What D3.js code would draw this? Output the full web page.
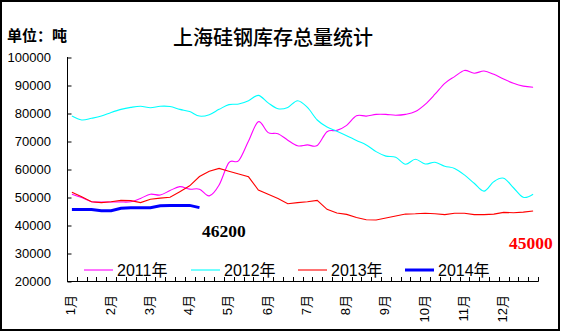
<!DOCTYPE html>
<html><head><meta charset="utf-8">
<script src="https://cdn.jsdelivr.net/npm/d3@7"></script>
<style>
html,body{margin:0;padding:0;background:#fff;}
svg{display:block;}
</style></head>
<body>
<script>
const weeks = d3.range(1, 49);
const monthLabels = ["1月","2月","3月","4月","5月","6月","7月","8月","9月","10月","11月","12月"];
const yTicks = [20000,30000,40000,50000,60000,70000,80000,90000,100000];
const seriesNames = ["2011年","2012年","2013年","2014年"];
const s2011 = [51000,49800,48300,48200,48200,48200,48300,49500,51000,50700,52300,53700,52800,52800,50400,54300,62300,63000,70000,76900,73000,72600,70300,68300,68600,68400,73300,73800,75600,79000,78900,79500,79500,79200,79500,80500,83100,86700,90600,93000,95200,94200,95000,93800,92100,90600,89600,89200];
const s2012 = [78900,77500,78100,78900,80200,81300,82000,82400,81900,82400,82300,81300,80500,78900,79400,81300,83000,83200,84400,86300,83600,81500,82000,84400,82000,77500,75000,73500,71900,70200,68600,66200,64600,64200,61700,63500,61800,62400,61000,60200,57900,54900,52100,55500,56700,53300,49900,51000];
const s2013 = [51700,50100,48300,48000,48300,48800,48700,48000,49200,49600,49900,51900,54000,57300,59200,60200,59200,58200,57200,52500,51000,49500,47600,48000,48300,48800,45600,44300,43800,42700,41900,41800,42500,43200,43900,44000,44200,44000,43700,44200,44200,43700,43700,43900,44500,44400,44600,45000];
const s2014 = [45500,45500,45500,45100,45100,46000,46200,46200,46200,46900,47000,47000,47000,46200];
const colors = ["#FF00FF","#00FFFF","#FF0000","#0000FF"];
const endLabels = [{text:"46200", color:"#000000"}, {text:"45000", color:"#FF0000"}];

const W = 561, H = 332;
const svg = d3.select("body").append("svg").attr("width", W).attr("height", H);
svg.append("rect").attr("x",1).attr("y",1).attr("width",W-3).attr("height",H-3)
  .attr("fill","#fff").attr("stroke","#000").attr("stroke-width",2);

const x = d3.scaleBand().domain(weeks).range([67, 538]).paddingInner(0).paddingOuter(0);
const y = d3.scaleLinear().domain([20000, 100000]).range([281, 57]);
const cx = d => x(d) + x.bandwidth()/2;

// title
svg.append("text").attr("x", 273).attr("y", 45).attr("text-anchor","middle")
  .attr("font-family","'Noto Sans CJK SC'").attr("font-size",20).attr("font-weight",500).attr("fill","#000")
  .text("上海硅钢库存总量统计");
svg.append("text").attr("x", 7).attr("y", 41)
  .attr("font-family","'Noto Sans CJK SC'").attr("font-weight","bold").attr("font-size",15).attr("fill","#000")
  .text("单位：吨");

// y axis
const yAxis = d3.axisLeft(y).tickValues(yTicks).tickSize(-4).tickPadding(16).tickFormat(d3.format("d"));
const gy = svg.append("g").attr("transform","translate(67,0)").call(yAxis);
gy.select(".domain").attr("d","M0.5,57V281.5").attr("stroke","#000");
gy.selectAll(".tick line").attr("stroke","#000").attr("transform","translate(0.5,0.5)");
gy.selectAll(".tick text").attr("font-family","'Liberation Sans'").attr("font-size",13).attr("fill","#000");

// x axis: ticks at band boundaries
const gx = svg.append("g").attr("transform","translate(0,281)");
gx.append("line").attr("x1",67).attr("x2",538.5).attr("y1",0.5).attr("y2",0.5).attr("stroke","#000");
gx.selectAll("line.t").data(d3.range(0, weeks.length+1)).join("line").attr("class","t")
  .attr("x1", i => Math.round(67 + i*x.bandwidth())+0.5).attr("x2", i => Math.round(67 + i*x.bandwidth())+0.5)
  .attr("y1",0.5).attr("y2",-4).attr("stroke","#000");
gx.selectAll("text.m").data(monthLabels).join("text").attr("class","m")
  .attr("transform",(d,i)=>`translate(${cx(weeks[i*4])-1},14) rotate(-90)`)
  .attr("text-anchor","end").attr("dy","0.35em")
  .attr("font-family","'Liberation Sans','Noto Sans CJK SC'").attr("font-size",13).attr("fill","#000")
  .text(d=>d);

// lines
const smooth = d3.line().x((d,i)=>cx(weeks[i])).y(d=>y(d)).curve(d3.curveCardinal.tension(0));
const straight = d3.line().x((d,i)=>cx(weeks[i])).y(d=>y(d));
const data = [s2011, s2012, s2013, s2014];
const gens = [smooth, smooth, straight, straight];
const widths = [1.1, 1.1, 1.1, 3];
data.forEach((s,k)=>{
  svg.append("path").attr("d", gens[k](s)).attr("fill","none")
    .attr("stroke", colors[k]).attr("stroke-width", widths[k]);
});

// end labels
svg.append("text").attr("x",202).attr("y",237).attr("font-family","'Liberation Serif'")
  .attr("font-weight","bold").attr("font-size",17.5).attr("fill",endLabels[0].color).text(endLabels[0].text);
svg.append("text").attr("x",509).attr("y",249).attr("font-family","'Liberation Serif'")
  .attr("font-weight","bold").attr("font-size",17.5).attr("fill",endLabels[1].color).text(endLabels[1].text);

// legend
const legX = [84, 191, 298, 405];
const lg = svg.append("g");
seriesNames.forEach((n,k)=>{
  lg.append("line").attr("x1",legX[k]).attr("x2",legX[k]+29).attr("y1",270).attr("y2",270)
    .attr("stroke",colors[k]).attr("stroke-width", k===3?3:1.1);
  lg.append("text").attr("x",legX[k]+33).attr("y",276)
    .attr("font-family","'Liberation Sans','Noto Sans CJK SC'").attr("font-size",16).attr("fill","#000").text(n);
});
</script>
</body></html>
